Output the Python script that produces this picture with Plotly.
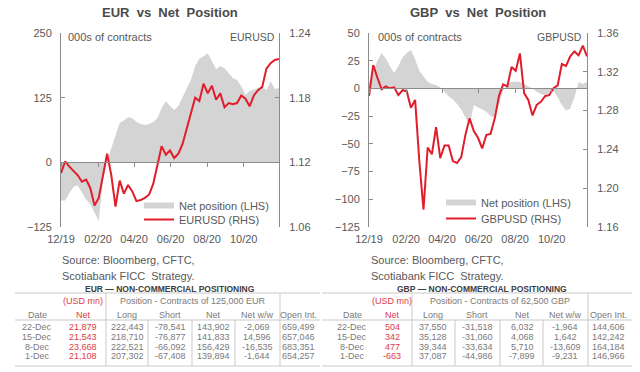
import plotly.graph_objects as go
import pandas as pd

# ---------------- data ----------------
dates = pd.date_range("2019-12-24", "2020-12-22", freq="7D")  # weekly CFTC dates (53)

eur_net = [-74, -74, -60, -47, -45, -58, -72, -81, -97, -114,
           -35, 4, 27, 52, 76, 81, 87, 85, 78, 74,
           72, 74, 78, 85, 105, 118, 109, 101, 109, 126,
           143, 159, 186, 200, 205, 211, 196, 180, 186, 182,
           172, 163, 159, 147, 130, 138, 141, 143, 145, 139.9,
           156.4, 141.8, 143.9]
eurusd = [1.110, 1.121, 1.116, 1.112, 1.108, 1.102, 1.104, 1.096, 1.080, 1.087,
          1.108, 1.128, 1.108, 1.079, 1.103, 1.091, 1.099, 1.093, 1.084, 1.085,
          1.087, 1.090, 1.100, 1.119, 1.135, 1.127, 1.131, 1.124, 1.128, 1.137,
          1.151, 1.165, 1.180, 1.177, 1.193, 1.184, 1.191, 1.178, 1.184, 1.171,
          1.175, 1.174, 1.175, 1.182, 1.179, 1.172, 1.182, 1.187, 1.190, 1.207,
          1.212, 1.215, 1.216]

gbp_net = [5, 15, 25, 32, 27, 20, 14, 20, 28, 32,
           35, 26, 16, 11, 6, 4, 3, 1, -3, -7,
           -10, -14, -19, -26, -33, -15, -17, -19, -21, -25,
           -26, -14, -2, 4, 6, 6, 6, 4, 2, 0,
           -3, -5, -6, -4, -2, -8, -15, -20, -18, -7.9,
           5.7, 4.1, 6.0]
gbpusd = [1.295, 1.327, 1.314, 1.302, 1.305, 1.303, 1.304, 1.296, 1.301, 1.300,
          1.283, 1.291, 1.228, 1.178, 1.242, 1.235, 1.263, 1.231, 1.244, 1.244,
          1.228, 1.226, 1.232, 1.255, 1.272, 1.259, 1.252, 1.241, 1.255, 1.256,
          1.272, 1.295, 1.307, 1.305, 1.325, 1.321, 1.339, 1.298, 1.291, 1.275,
          1.286, 1.289, 1.295, 1.296, 1.303, 1.306, 1.328, 1.326, 1.336, 1.341,
          1.337, 1.347, 1.336]

tbl_dates = ["22-Dec", "15-Dec", "8-Dec", "1-Dec"]
eur_usdmn = ["21,879", "21,543", "23,668", "21,108"]
eur_long = ["222,443", "218,710", "222,521", "207,302"]
eur_short = ["-78,541", "-76,877", "-66,092", "-67,408"]
eur_tnet = ["143,902", "141,833", "156,429", "139,894"]
eur_ww = ["-2,069", "14,596", "-16,535", "-1,644"]
eur_oi = ["659,499", "657,046", "683,351", "654,257"]

gbp_usdmn = ["504", "342", "477", "-663"]
gbp_long = ["37,550", "35,128", "39,344", "37,087"]
gbp_short = ["-31,518", "-31,060", "-33,634", "-44,986"]
gbp_tnet = ["6,032", "4,068", "5,710", "-7,899"]
gbp_ww = ["-1,964", "1,642", "-13,609", "-9,231"]
gbp_oi = ["144,606", "142,242", "164,184", "146,966"]

hdr_cols = ["Date", "Net", "Long", "Short", "Net", "Net w/w", "Open Int."]

# ---------------- styling ----------------
W, H = 640, 372
FONT = "Liberation Sans, Arial, sans-serif"
TXT = "#595959"
AXC = "#8c8c8c"
RED = "#E11D2C"
TRED = "#DD3B46"
GRAY = "#D4D4D4"
TGRAY = "#7a7a7a"
LGRAY = "#c9c9c9"


def px(x):   # window pixel -> paper fraction
    return x / W


def py(y):
    return 1 - y / H


EUR_X = [px(61), px(279)]
GBP_X = [px(369), px(587)]
DOM_Y = [py(227), py(33)]
EUR_YR = [-125, 250]
GBP_YR = [-125, 50]


def zero_pos(rng):
    return DOM_Y[0] + (0 - rng[0]) / (rng[1] - rng[0]) * (DOM_Y[1] - DOM_Y[0])


fig = go.Figure()

# EUR traces
fig.add_trace(go.Scatter(x=dates, y=eur_net, mode="none", fill="tozeroy", fillcolor=GRAY,
                         name="Net position (LHS)", xaxis="x", yaxis="y", legend="legend",
                         hoverinfo="skip"))
fig.add_trace(go.Scatter(x=dates, y=eurusd, mode="lines", line=dict(color=RED, width=2),
                         name="EURUSD (RHS)", xaxis="x", yaxis="y2", legend="legend2"))
# GBP traces
fig.add_trace(go.Scatter(x=dates, y=gbp_net, mode="none", fill="tozeroy", fillcolor=GRAY,
                         name="Net position (LHS)", xaxis="x3", yaxis="y3", legend="legend3",
                         hoverinfo="skip"))
fig.add_trace(go.Scatter(x=dates, y=gbpusd, mode="lines", line=dict(color=RED, width=2),
                         name="GBPUSD (RHS)", xaxis="x3", yaxis="y4", legend="legend4"))
# dummy traces to attach zero-line axes
fig.add_trace(go.Scatter(x=dates[:1], y=[0], mode="markers", marker=dict(opacity=0),
                         xaxis="x5", yaxis="y", showlegend=False, hoverinfo="skip"))
fig.add_trace(go.Scatter(x=dates[:1], y=[0], mode="markers", marker=dict(opacity=0),
                         xaxis="x6", yaxis="y3", showlegend=False, hoverinfo="skip"))

tickfont = dict(family=FONT, size=11, color=TXT)
xrange = [dates[0], dates[-1]]


def xdate(domain, anchor):
    return dict(type="date", domain=domain, anchor=anchor, range=xrange,
                tick0="2019-12-24", dtick="M2", tickformat="%m/%y",
                showline=False, ticks="", showgrid=False, zeroline=False,
                tickfont=tickfont, ticklabelstandoff=4, fixedrange=True, automargin=False)


def xzero(over, pos):
    return dict(type="date", overlaying=over, anchor="free", position=pos, range=xrange,
                tick0="2019-12-24", dtick="M2", showticklabels=False,
                showline=True, linecolor=AXC, linewidth=1, ticks="outside",
                ticklen=4, tickcolor=AXC, showgrid=False, zeroline=False, automargin=False)


def yleft(anchor, rng, dtick):
    return dict(domain=DOM_Y, anchor=anchor, range=rng, dtick=dtick, tick0=0,
                showline=True, linecolor=AXC, linewidth=1, ticks="inside", ticklen=4,
                tickcolor=AXC, showgrid=False, zeroline=False, tickfont=tickfont,
                ticklabelstandoff=6, automargin=False)


def yright(over, anchor, rng, dtick):
    return dict(overlaying=over, side="right", anchor=anchor, range=rng, dtick=dtick,
                tick0=rng[0], tickformat=".2f", showline=True, linecolor=AXC, linewidth=1,
                ticks="inside", ticklen=4, tickcolor=AXC, showgrid=False, zeroline=False,
                tickfont=tickfont, ticklabelstandoff=7, automargin=False)


def leg(x, y):
    return dict(x=px(x), y=py(y), xanchor="left", yanchor="top",
                bgcolor="rgba(0,0,0,0)", borderwidth=0, itemwidth=30,
                font=dict(family=FONT, size=11, color=TXT))


fig.update_layout(
    template="none",
    width=W, height=H, margin=dict(l=0, r=0, t=0, b=0, pad=0, autoexpand=False),
    paper_bgcolor="white", plot_bgcolor="white",
    font=dict(family=FONT, color=TXT),
    xaxis=xdate(EUR_X, "y"),
    yaxis=yleft("x", EUR_YR, 125),
    yaxis2=yright("y", "x", [1.06, 1.2400001], 0.06),
    xaxis3=xdate(GBP_X, "y3"),
    yaxis3=yleft("x3", GBP_YR, 25),
    yaxis4=yright("y3", "x3", [1.16, 1.3600001], 0.04),
    xaxis5=xzero("x", zero_pos(EUR_YR)),
    xaxis6=xzero("x3", zero_pos(GBP_YR)),
    legend=leg(139, 191),
    legend2=leg(139, 205),
    legend3=leg(441, 188),
    legend4=leg(441, 204),
    showlegend=True,
)

ann = []
shapes = []


def text(x, y, s, size=11, color=TXT, bold=False, xanchor="center"):
    ann.append(dict(x=px(x), y=py(y), xref="paper", yref="paper", text=f"<b>{s}</b>" if bold else s,
                    showarrow=False, xanchor=xanchor, yanchor="middle",
                    font=dict(family=FONT, size=size, color=color)))


def hline(x0, x1, y):
    shapes.append(dict(type="line", xref="paper", yref="paper", x0=px(x0), x1=px(x1),
                       y0=py(y), y1=py(y), line=dict(color=LGRAY, width=1)))


def vline(x, y0, y1):
    shapes.append(dict(type="line", xref="paper", yref="paper", x0=px(x), x1=px(x),
                       y0=py(y0), y1=py(y1), line=dict(color=LGRAY, width=1)))


# chart titles & in-plot labels
text(170, 13, "EUR  vs  Net  Position", size=13, color="#4a4a4a", bold=True)
text(478, 13, "GBP  vs  Net  Position", size=13, color="#4a4a4a", bold=True)
text(66, 37, "000s of contracts", xanchor="left")
text(376, 37, "000s of contracts", xanchor="left")
text(277, 37, "EURUSD", size=10.5, xanchor="right")
text(584, 37, "GBPUSD", size=10.5, xanchor="right")
# source
for sx in (60, 369):
    text(sx, 260, "Source: Bloomberg, CFTC,", xanchor="left")
    text(sx, 276, "Scotiabank FICC  Strategy.", xanchor="left")


def draw_table(title, title_x, x0, x1, cols, vfull, vdata, pos_text, cur_cols):
    text(title_x, 289, title, size=8.5, color="#404040", bold=True)
    hline(x0, x1, 293)
    hline(x0, x1, 320)
    hline(x0, x1, 366)
    for v in vfull:
        vline(v, 293, 366)
    for v in vdata:
        vline(v, 320, 366)
    text(cols[1], 301, "(USD mn)", size=9, color=TRED)
    text((vfull[0] + vfull[1]) / 2, 301, pos_text, size=9, color=TGRAY)
    for i, h in enumerate(hdr_cols):
        text(cols[i], 315, h, size=9, color=TRED if i == 1 else TGRAY)
    row_y = [327, 337, 346.5, 356]
    for ci, col in enumerate(cur_cols):
        for ri, val in enumerate(col):
            text(cols[ci], row_y[ri], val, size=9, color=TRED if ci == 1 else TGRAY)


draw_table("EUR — NON-COMMERCIAL POSITIONING", 170, 15, 320,
           [37, 83, 127, 170, 213, 257, 298], [106, 280], [148, 192, 235],
           "Position - Contracts of 125,000 EUR",
           [tbl_dates, eur_usdmn, eur_long, eur_short, eur_tnet, eur_ww, eur_oi])
draw_table("GBP — NON-COMMERCIAL POSITIONING", 482, 322, 632,
           [352, 392, 433, 477, 522, 565, 608], [412, 588], [455, 500, 543],
           "Position - Contracts of 62,500 GBP",
           [tbl_dates, gbp_usdmn, gbp_long, gbp_short, gbp_tnet, gbp_ww, gbp_oi])

fig.update_layout(annotations=ann, shapes=shapes)
fig.write_html("out.html", config=dict(displayModeBar=False),
               post_script="document.body.style.margin='0';document.body.style.overflow='hidden';")
